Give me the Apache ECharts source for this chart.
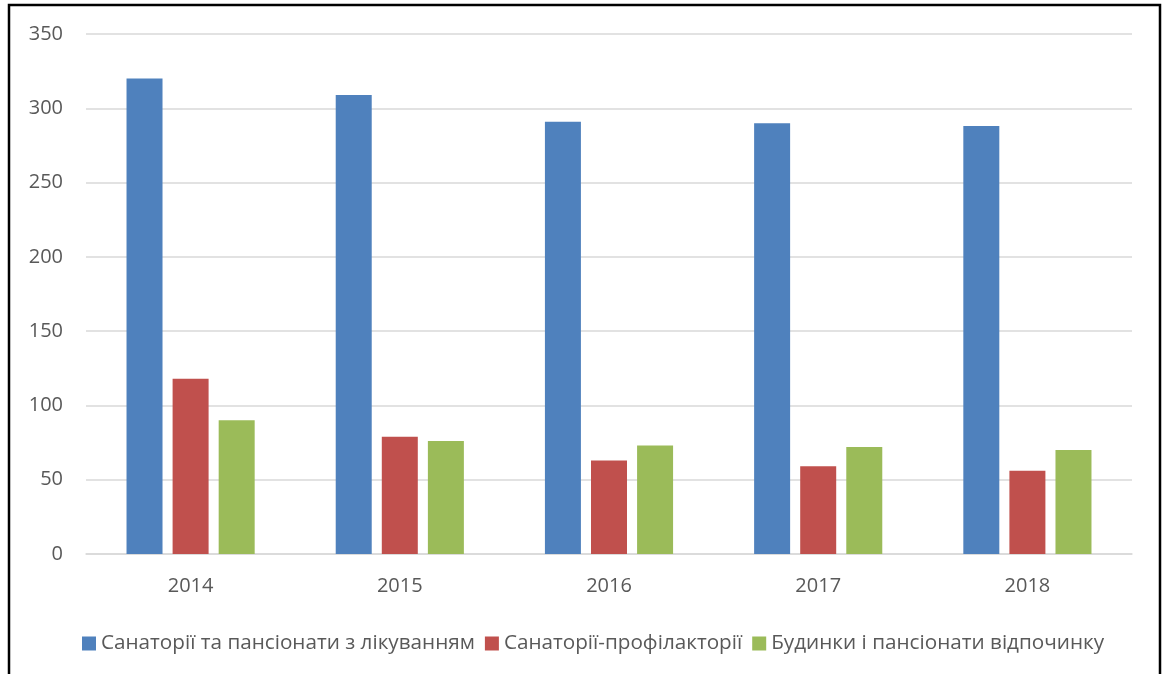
<!DOCTYPE html>
<html>
<head>
<meta charset="utf-8">
<script src="https://cdn.jsdelivr.net/npm/echarts@6/dist/echarts.min.js"></script>
<style>
  html, body { margin: 0; padding: 0; background: #fff; }
  #chart { width: 1165px; height: 674px; }
</style>
</head>
<body>
<div id="chart"></div>
<script>
// Years on the category axis
const years = ['2014', '2015', '2016', '2017', '2018'];

// Number of establishments by type
const sanatoriums = [320, 309, 291, 290, 288];
const prophylactoriums = [118, 79, 63, 59, 56];
const restHouses = [90, 76, 73, 72, 70];

// Series names shown in the legend
const seriesNames = [
  'Санаторії та пансіонати з лікуванням',
  'Санаторії-профілакторії',
  'Будинки і пансіонати відпочинку'
];

// Value axis range
const yMin = 0;
const yMax = 350;
const yStep = 50;

const textColor = '#595959';
const fontFamily = "'Open Sans', 'Liberation Sans', sans-serif";

const chart = echarts.init(document.getElementById('chart'), null, { renderer: 'canvas' });

const barStyle = (color) => ({
  type: 'bar',
  barWidth: 36,
  barGap: '28%',
  itemStyle: { color: color }
});

chart.setOption({
  animation: false,
  backgroundColor: '#ffffff',
  color: ['#4f81bd', '#c0504d', '#9bbb59'],
  graphic: [{
    type: 'rect',
    shape: { x: 9, y: 5, width: 1151, height: 700 },
    style: { fill: 'none', stroke: '#000', lineWidth: 2.5 },
    silent: true,
    z: 100
  }],
  grid: { left: 86, right: 33, top: 34, bottom: 120, containLabel: false },
  legend: {
    top: 628,
    left: 77,
    itemWidth: 14,
    itemHeight: 14,
    itemGap: 10,
    icon: 'rect',
    textStyle: { color: textColor, fontSize: 20.7, fontFamily: fontFamily },
    data: seriesNames
  },
  xAxis: {
    type: 'category',
    data: years,
    axisLine: { show: true, lineStyle: { color: '#d9d9d9', width: 1.5 } },
    axisTick: { show: false },
    axisLabel: { color: textColor, fontSize: 20, fontFamily: fontFamily, margin: 22 }
  },
  yAxis: {
    type: 'value',
    min: yMin,
    max: yMax,
    interval: yStep,
    axisLine: { show: false },
    axisTick: { show: false },
    splitLine: { lineStyle: { color: '#d9d9d9', width: 1.5 } },
    axisLabel: { color: textColor, fontSize: 20, fontFamily: fontFamily, margin: 23 }
  },
  series: [
    Object.assign(barStyle('#4f81bd'), { name: seriesNames[0], data: sanatoriums }),
    Object.assign(barStyle('#c0504d'), { name: seriesNames[1], data: prophylactoriums }),
    Object.assign(barStyle('#9bbb59'), { name: seriesNames[2], data: restHouses })
  ]
});
</script>
</body>
</html>
